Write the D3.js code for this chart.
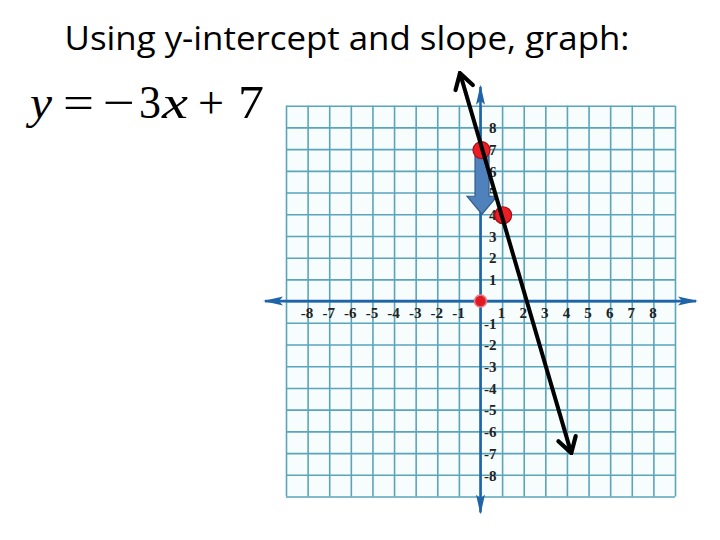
<!DOCTYPE html>
<html>
<head>
<meta charset="utf-8">
<script src="https://cdn.jsdelivr.net/npm/d3@7"></script>
<style>
  body { margin: 0; background: #fff; }
  svg { display: block; }
</style>
</head>
<body>
<svg id="chart"></svg>
<script>
// data for the graph
const gridRange = [-9, 9];
const tickValues = [-8, -7, -6, -5, -4, -3, -2, -1, 1, 2, 3, 4, 5, 6, 7, 8];
const interceptPoint = [0, 7];
const slopePoint = [1, 4];
const originPoint = [0, 0];
const riseArrow = [[0.07, 7], [0.07, 4]];       // from, to
const drawnLine = [[-0.95, 10.5], [4.2, -7.0]]; // hand drawn line, ends
const titleText = "Using y-intercept and slope, graph:";
const equationParts = ["y", "=", "\u2212", "3", "x", "+", "7"];

const width = 720;
const height = 540;

const svg = d3.select("#chart")
    .attr("width", width)
    .attr("height", height);

// scales
const x = d3.scaleLinear().domain(gridRange).range([286, 675]);
const y = d3.scaleLinear().domain(gridRange).range([496.5, 105.7]);

const gridColor = "#5aa5bb";
const axisColor = "#1f64a8";
const serif = "'Liberation Serif', 'Times New Roman', serif";

// title
svg.append("text")
    .attr("x", 347)
    .attr("y", 50)
    .attr("text-anchor", "middle")
    .attr("font-family", "'Open Sans', sans-serif")
    .attr("font-size", 32)
    .attr("fill", "#000")
    .attr("textLength", 565)
    .attr("lengthAdjust", "spacingAndGlyphs")
    .text(titleText);

// equation y = -3x + 7, each piece placed like the slide
const eqX = [30, 63, 103, 139, 162, 198, 238];
const eqW = [22, 31, 32, 22, 26, 26, 26];
svg.append("g").selectAll("text")
    .data(equationParts)
    .enter()
    .append("text")
    .attr("x", (d, i) => eqX[i])
    .attr("y", 118)
    .attr("font-family", serif)
    .attr("font-size", 46)
    .attr("font-style", d => (d === "y" || d === "x") ? "italic" : "normal")
    .attr("fill", "#000")
    .attr("textLength", (d, i) => eqW[i])
    .attr("lengthAdjust", "spacingAndGlyphs")
    .text(d => d);

// grid panel
svg.append("rect")
    .attr("x", x(gridRange[0]))
    .attr("y", y(gridRange[1]))
    .attr("width", x(gridRange[1]) - x(gridRange[0]))
    .attr("height", y(gridRange[0]) - y(gridRange[1]))
    .attr("fill", "#f7fcfd");

const gridTicks = d3.range(gridRange[0], gridRange[1] + 1);

svg.append("g")
    .attr("transform", `translate(0, ${y(gridRange[0])})`)
    .call(d3.axisBottom(x).tickValues(gridTicks).tickSize(-(y(gridRange[0]) - y(gridRange[1]))).tickFormat(""))
    .call(g => g.select(".domain").remove())
    .call(g => g.selectAll("line").attr("stroke", gridColor).attr("stroke-width", 1.6));

svg.append("g")
    .attr("transform", `translate(${x(gridRange[0])}, 0)`)
    .call(d3.axisLeft(y).tickValues(gridTicks).tickSize(-(x(gridRange[1]) - x(gridRange[0]))).tickFormat(""))
    .call(g => g.select(".domain").remove())
    .call(g => g.selectAll("line").attr("stroke", gridColor).attr("stroke-width", 1.6));

// arrowheads
const defs = svg.append("defs");
defs.append("marker")
    .attr("id", "axisHead")
    .attr("viewBox", "0 -5 20 10")
    .attr("refX", 18)
    .attr("refY", 0)
    .attr("markerWidth", 20)
    .attr("markerHeight", 10)
    .attr("markerUnits", "userSpaceOnUse")
    .attr("orient", "auto-start-reverse")
    .append("path")
    .attr("d", "M0,-4.5 L20,0 L0,4.5 L4,0 Z")
    .attr("fill", axisColor);

defs.append("marker")
    .attr("id", "lineHead")
    .attr("viewBox", "-18 -12 20 24")
    .attr("refX", 0)
    .attr("refY", 0)
    .attr("markerWidth", 20)
    .attr("markerHeight", 24)
    .attr("markerUnits", "userSpaceOnUse")
    .attr("orient", "auto-start-reverse")
    .append("path")
    .attr("d", "M-15,-9 L0,0 L-15,9")
    .attr("fill", "none")
    .attr("stroke", "#000")
    .attr("stroke-width", 4.2)
    .attr("stroke-linecap", "round")
    .attr("stroke-linejoin", "miter");

// x axis and y axis
svg.append("line")
    .attr("x1", x(gridRange[0]) - 21).attr("x2", x(gridRange[1]) + 21)
    .attr("y1", y(0)).attr("y2", y(0))
    .attr("stroke", axisColor)
    .attr("stroke-width", 2.6)
    .attr("marker-start", "url(#axisHead)")
    .attr("marker-end", "url(#axisHead)");

svg.append("line")
    .attr("x1", x(0)).attr("x2", x(0))
    .attr("y1", y(gridRange[1]) - 19).attr("y2", y(gridRange[0]) + 16)
    .attr("stroke", axisColor)
    .attr("stroke-width", 2.6)
    .attr("marker-start", "url(#axisHead)")
    .attr("marker-end", "url(#axisHead)");

// tick labels
svg.append("g")
    .attr("transform", `translate(0, ${y(0)})`)
    .call(d3.axisBottom(x).tickValues(tickValues).tickSize(0).tickPadding(6).tickFormat(d => String(d)))
    .call(g => g.select(".domain").remove())
    .call(g => g.selectAll("text")
        .attr("font-family", serif)
        .attr("font-weight", "bold")
        .attr("font-size", 15)
        .attr("fill", "#222")
        .attr("dx", -1));

svg.append("g")
    .attr("transform", `translate(${x(0) + 16}, 0)`)
    .call(d3.axisLeft(y).tickValues(tickValues).tickSize(0).tickPadding(0).tickFormat(d => String(d)))
    .call(g => g.select(".domain").remove())
    .call(g => g.selectAll("text")
        .attr("font-family", serif)
        .attr("font-weight", "bold")
        .attr("font-size", 15)
        .attr("fill", "#222")
        .attr("dy", "0.35em"));

// blue block arrow for the rise
const shaftHalf = 7;
const headHalf = 15;
const headLen = 18;
const ax = x(riseArrow[0][0]);
const ay0 = y(riseArrow[0][1]);
const ay1 = y(riseArrow[1][1]);
const arrowPath = d3.path();
arrowPath.moveTo(ax - shaftHalf, ay0);
arrowPath.lineTo(ax + shaftHalf, ay0);
arrowPath.lineTo(ax + shaftHalf, ay1 - headLen);
arrowPath.lineTo(ax + headHalf, ay1 - headLen);
arrowPath.lineTo(ax, ay1);
arrowPath.lineTo(ax - headHalf, ay1 - headLen);
arrowPath.lineTo(ax - shaftHalf, ay1 - headLen);
arrowPath.closePath();

svg.append("path")
    .attr("d", arrowPath.toString())
    .attr("fill", "#4f81bd")
    .attr("stroke", "#385d8a")
    .attr("stroke-width", 1.2);

// points
svg.append("circle")
    .attr("cx", x(originPoint[0]))
    .attr("cy", y(originPoint[1]))
    .attr("r", 6)
    .attr("fill", "#e01a24")
    .attr("stroke", "#f07a80")
    .attr("stroke-width", 1.5);

svg.selectAll(".pt")
    .data([interceptPoint, slopePoint])
    .enter()
    .append("circle")
    .attr("class", "pt")
    .attr("cx", d => x(d[0]) + 1)
    .attr("cy", d => y(d[1]) + 1)
    .attr("r", 8.5)
    .attr("fill", "#ee1c24")
    .attr("stroke", "#9c1016")
    .attr("stroke-width", 1.2);

// the graphed line
svg.append("line")
    .attr("x1", x(drawnLine[0][0])).attr("y1", y(drawnLine[0][1]))
    .attr("x2", x(drawnLine[1][0])).attr("y2", y(drawnLine[1][1]))
    .attr("stroke", "#000")
    .attr("stroke-width", 4)
    .attr("marker-start", "url(#lineHead)")
    .attr("marker-end", "url(#lineHead)");
</script>
</body>
</html>
